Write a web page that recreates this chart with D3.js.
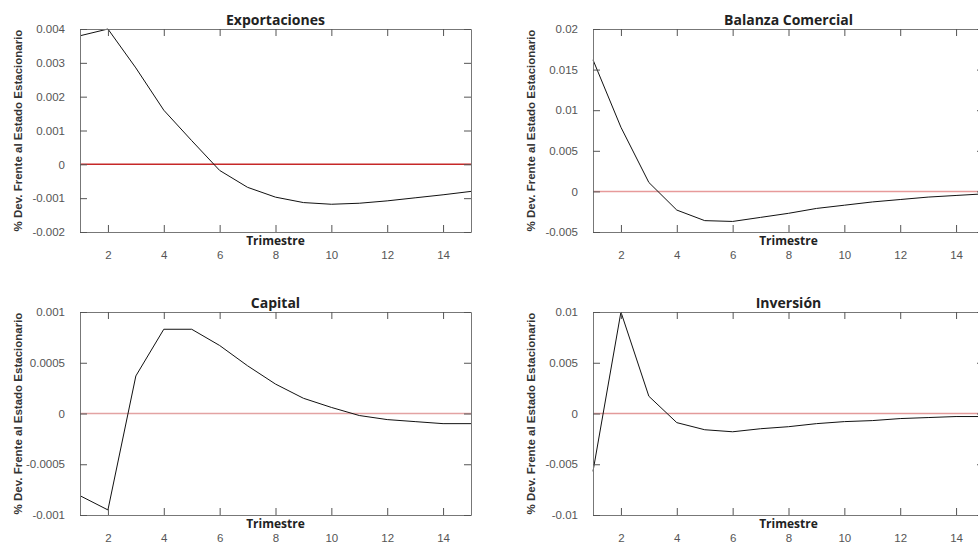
<!DOCTYPE html>
<html>
<head>
<meta charset="utf-8">
<script src="https://cdn.jsdelivr.net/npm/d3@7"></script>
<style>
  body { margin: 0; background: #fff; }
  .tick text { font-family: "Liberation Sans", Arial, sans-serif; font-size: 11.5px; fill: #555; }
  .title { font-family: "Open Sans", sans-serif; font-weight: bold; font-size: 14px; fill: #222; }
  .x-label { font-family: "Open Sans", sans-serif; font-weight: bold; font-size: 12px; fill: #222; }
  .y-label { font-family: "Liberation Sans", Arial, sans-serif; font-weight: bold; font-size: 11.5px; fill: #333; }
</style>
</head>
<body>
<script>
// data
var trimestre = [1, 2, 3, 4, 5, 6, 7, 8, 9, 10, 11, 12, 13, 14, 15];
var xTicks = [2, 4, 6, 8, 10, 12, 14];

var exportaciones = [0.0038, 0.0040, 0.00285, 0.0016, 0.0007, -0.00018, -0.00068, -0.00097, -0.00113, -0.00118, -0.00115, -0.00108, -0.00099, -0.0009, -0.0008];
var balanza = [0.0162, 0.0079, 0.0011, -0.0023, -0.0036, -0.0037, -0.0032, -0.0027, -0.0021, -0.0017, -0.0013, -0.001, -0.0007, -0.0005, -0.0003];
var capital = [-0.00081, -0.00095, 0.00037, 0.00083, 0.00083, 0.00067, 0.00047, 0.00029, 0.00015, 0.00006, -0.00002, -0.00006, -0.00008, -0.0001, -0.0001];
var inversion = [-0.0057, 0.0100, 0.0017, -0.0009, -0.0016, -0.0018, -0.0015, -0.0013, -0.001, -0.0008, -0.0007, -0.0005, -0.0004, -0.0003, -0.0003];

var yTicksExp = [-0.002, -0.001, 0, 0.001, 0.002, 0.003, 0.004];
var yTicksBal = [-0.005, 0, 0.005, 0.01, 0.015, 0.02];
var yTicksCap = [-0.001, -0.0005, 0, 0.0005, 0.001];
var yTicksInv = [-0.01, -0.005, 0, 0.005, 0.01];

var titles = ["Exportaciones", "Balanza Comercial", "Capital", "Inversión"];
var yLabel = "% Dev. Frente al Estado Estacionario";
var xLabel = "Trimestre";

var panels = [
  { title: titles[0], values: exportaciones, ticks: yTicksExp, left: 80, top: 29, zero: "#c62828" },
  { title: titles[1], values: balanza, ticks: yTicksBal, left: 593, top: 29, zero: "#e79a9a" },
  { title: titles[2], values: capital, ticks: yTicksCap, left: 80, top: 312, zero: "#e3a3a3" },
  { title: titles[3], values: inversion, ticks: yTicksInv, left: 593, top: 312, zero: "#e39a9a" }
];

var width = 391;
var height = 203;

var svg = d3.select("body").append("svg")
  .attr("width", 978)
  .attr("height", 543);

var fmt = function(d) { return String(+d.toFixed(6)); };

panels.forEach(function(p) {
  var x = d3.scaleLinear().domain([1, 15]).range([0, width]);
  var y = d3.scaleLinear().domain([p.ticks[0], p.ticks[p.ticks.length - 1]]).range([height, 0]);

  var g = svg.append("g")
    .attr("transform", "translate(" + p.left + "," + p.top + ")");

  // zero line
  g.append("line")
    .attr("x1", 0).attr("x2", width)
    .attr("y1", y(0)).attr("y2", y(0))
    .attr("stroke", p.zero)
    .attr("stroke-width", 1.5);

  // series
  var line = d3.line()
    .x(function(d, i) { return x(trimestre[i]); })
    .y(function(d) { return y(d); });

  g.append("path")
    .attr("d", line(p.values))
    .attr("fill", "none")
    .attr("stroke", "#111")
    .attr("stroke-width", 1);

  // axes, ticks pointing inward
  var bottom = g.append("g").attr("transform", "translate(0," + height + ")")
    .call(d3.axisBottom(x).tickValues(xTicks).tickSizeInner(-7).tickSizeOuter(0).tickPadding(19));
  var top = g.append("g")
    .call(d3.axisTop(x).tickValues(xTicks).tickSizeInner(-7).tickSizeOuter(0).tickFormat(""));
  var left = g.append("g")
    .call(d3.axisLeft(y).tickValues(p.ticks).tickSizeInner(-7).tickSizeOuter(0).tickPadding(15).tickFormat(fmt));
  var right = g.append("g").attr("transform", "translate(" + width + ",0)")
    .call(d3.axisRight(y).tickValues(p.ticks).tickSizeInner(-7).tickSizeOuter(0).tickFormat(""));

  [bottom, top, left, right].forEach(function(a) {
    a.select(".domain").attr("stroke", "#777");
    a.selectAll(".tick line").attr("stroke", "#555");
  });

  g.append("text")
    .attr("class", "title")
    .attr("x", width / 2)
    .attr("y", -9)
    .attr("dy", ".35em")
    .attr("text-anchor", "middle")
    .text(p.title);

  g.append("text")
    .attr("class", "x-label")
    .attr("x", width / 2)
    .attr("y", height + 9)
    .attr("dy", ".35em")
    .attr("text-anchor", "middle")
    .text(xLabel);

  g.append("text")
    .attr("class", "y-label")
    .attr("transform", "rotate(-90)")
    .attr("x", -height / 2)
    .attr("y", -62)
    .attr("dy", ".35em")
    .attr("text-anchor", "middle")
    .text(yLabel);
});
</script>
</body>
</html>
